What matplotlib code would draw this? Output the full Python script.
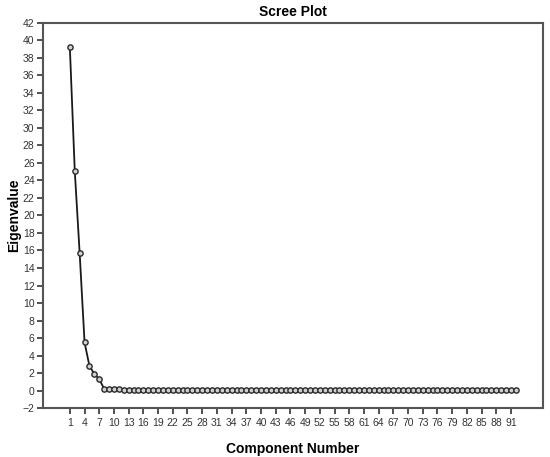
import matplotlib
matplotlib.use("Agg")
import matplotlib.pyplot as plt

plt.rcParams['font.family'] = ['Liberation Sans', 'DejaVu Sans']

components = list(range(1, 93))
eigen_head = [39.2, 25.1, 15.7, 5.5, 2.8, 1.9, 1.3, 0.2]
eigen_tail = [0.14, 0.13, 0.13, 0.12, 0.12, 0.12, 0.12, 0.11, 0.11, 0.11,
              0.11, 0.11, 0.10, 0.10, 0.10, 0.10, 0.10, 0.10, 0.10, 0.09,
              0.09, 0.09, 0.09, 0.09, 0.09, 0.09, 0.09, 0.08, 0.08, 0.08,
              0.08, 0.08, 0.08, 0.08, 0.08, 0.08, 0.07, 0.07, 0.07, 0.07,
              0.07, 0.07, 0.07, 0.07, 0.07, 0.06, 0.06, 0.06, 0.06, 0.06,
              0.06, 0.06, 0.06, 0.06, 0.05, 0.05, 0.05, 0.05, 0.05, 0.05,
              0.05, 0.05, 0.05, 0.05, 0.04, 0.04, 0.04, 0.04, 0.04, 0.04,
              0.04, 0.04, 0.04, 0.04, 0.03, 0.03, 0.03, 0.03, 0.03, 0.03,
              0.03, 0.03, 0.03, 0.03]
eigenvalues = eigen_head + eigen_tail
xticks = list(range(1, 92, 3))
yticks = list(range(-2, 43, 2))

fig = plt.figure(figsize=(5.5, 4.57), dpi=100)
ax = fig.add_axes([0.078, 0.107, 0.909, 0.843])

ax.plot(components, eigenvalues, color='#1a1a1a', linewidth=1.3,
        marker='o', markersize=3.8, markerfacecolor='#d0d0d0',
        markeredgecolor='#2a2a2a', markeredgewidth=1.0)

ax.set_xlim(-4.5, 97.5)
ax.set_ylim(-2, 42)
ax.set_xticks(xticks)
ax.set_yticks(yticks)
ax.tick_params(axis='both', labelsize=7.5, colors='#333333', length=4,
               width=1.2, direction='out', pad=2)
ax.tick_params(axis='x', pad=3)
for sp in ax.spines.values():
    sp.set_color('#555555')
    sp.set_linewidth(1.5)

ax.set_title('Scree Plot', fontsize=10, fontweight='bold', pad=5)
ax.set_xlabel('Component Number', fontsize=10, fontweight='bold', labelpad=10)
ax.set_ylabel('Eigenvalue', fontsize=10, fontweight='bold', labelpad=1)

fig.savefig('out.png', dpi=100)
